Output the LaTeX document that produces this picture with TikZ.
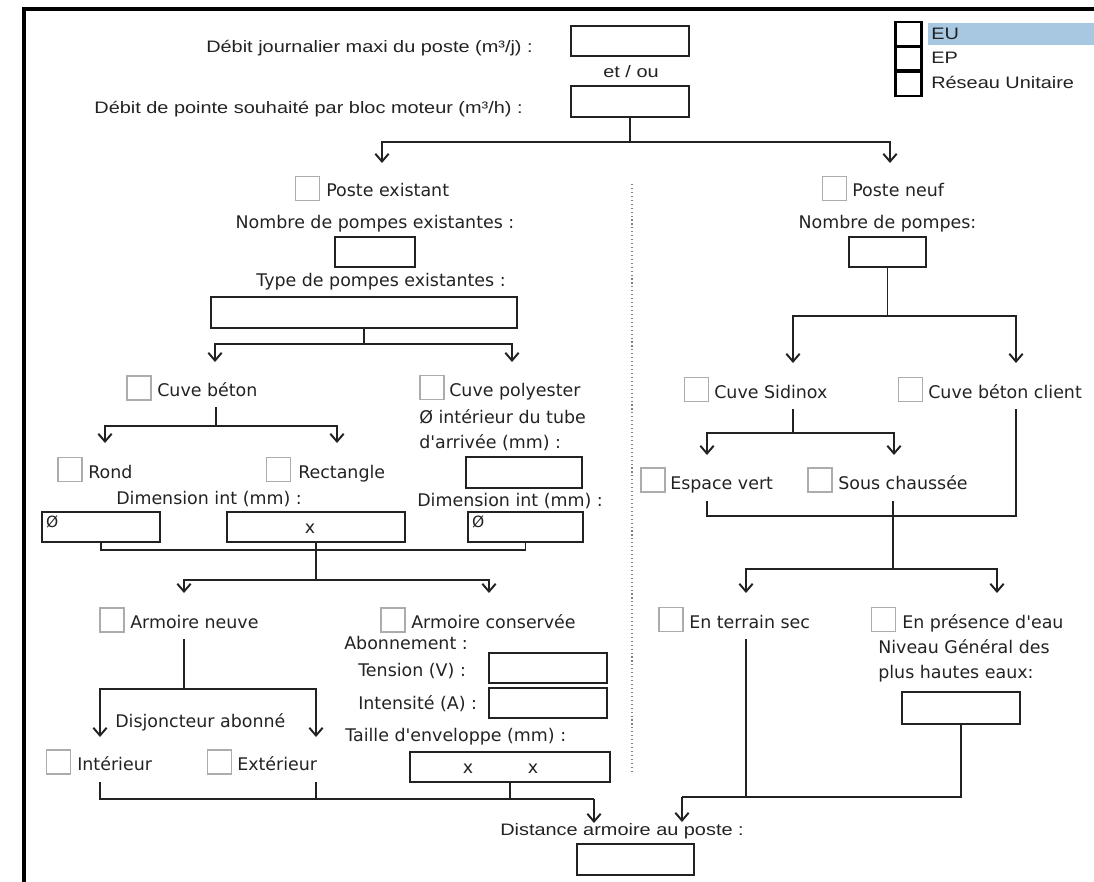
\documentclass[tikz,border=0pt]{standalone}
\usepackage{fontspec}
\setmainfont{Liberation Sans}[FakeStretch=1.2]
\newfontfamily\tah{DejaVu Sans}
\usetikzlibrary{arrows.meta}
\definecolor{hlblue}{HTML}{A8C8E2}
\definecolor{ink}{HTML}{222222}

\begin{document}
\begin{tikzpicture}[x=0.025cm, y=-0.025cm,
    ln/.style={draw=ink, line width=1.4pt},
    arr/.style={ln, -{Straight Barb[length=5.5pt,width=9.5pt]}},
    lbl/.style={font=\tah\fontsize{12.4}{14}\selectfont, text=ink, inner sep=0pt, text height=9pt, text depth=0pt},
    albl/.style={font=\fontsize{11.8}{13}\selectfont, text=ink, inner sep=0pt, text height=8.4pt, text depth=0pt},
    inbox/.style 2 args={draw=ink, line width=1.4pt, minimum width=#1*0.025cm, minimum height=#2*0.025cm, inner sep=0pt},
    chk/.style={draw=gray!65, line width=1.1pt, minimum size=24*0.025cm, inner sep=0pt},
    lgd/.style={draw=black, line width=1.8pt, minimum width=26*0.025cm, minimum height=24*0.025cm, inner sep=0pt},
    phi/.style={font=\tah\fontsize{11}{12}\selectfont, text=ink, inner sep=0pt, anchor=north west, xshift=3.5pt, yshift=-3pt}]
    \useasboundingbox (0,0) rectangle (1094,882);
    \draw[line width=3pt] (24,882) -- (24,9) -- (1094,9);

    % Debits
    \node[albl, anchor=east] (qday) at (533,47) {Débit journalier maxi du poste (m³/j) :};
    \node[inbox={118}{30}] (bday) at (630,41) {};
    \node[albl] (etou) at (631,72) {et / ou};
    \node[inbox={118}{31}] (bpeak) at (630,101.5) {};
    \node[albl, anchor=east] (qpeak) at (523,108) {Débit de pointe souhaité par bloc moteur (m³/h) :};

    % Reseau
    \node[lgd] (cbeu) at (908.5,34) {};
    \node[lgd] (cbep) at (908.5,58.5) {};
    \node[lgd] (cbru) at (908.5,84) {};
    \node[fill=hlblue, minimum width=166*0.025cm, minimum height=22*0.025cm, inner sep=0pt, anchor=west] (eubar) at (928,34) {};
    \node[albl, anchor=west] (eu) at (931,34) {EU};
    \node[albl, anchor=west] (ep) at (931,58) {EP};
    \node[albl, anchor=west] (ru) at (931,83) {Réseau Unitaire};

    \coordinate (j1) at (630,142);
    \coordinate (t1) at (382,163);
    \coordinate (t2) at (890,163);
    \draw[ln] (bpeak.south) -- (j1);
    \draw[arr] (j1) -| (t1);
    \draw[arr] (j1) -| (t2);

    \draw[gray, dotted, line width=0.8pt] (632,184) -- (632,773);

    % Poste existant
    \node[chk] (cbpe) at (307.5,188.5) {};
    \node[lbl, anchor=west] (pe) at (326,190) {Poste existant};
    \node[lbl] (qnbpe) at (375,222) {Nombre de pompes existantes :};
    \node[inbox={80}{30}] (nbpe) at (375,252) {};
    \node[lbl] (qtype) at (381,280) {Type de pompes existantes :};
    \node[inbox={306}{31}] (type) at (364,312.5) {};
    \coordinate (j2) at (364,344);
    \coordinate (t3) at (215,362);
    \coordinate (t4) at (512,362);
    \draw[ln] (type.south) -- (j2);
    \draw[arr] (j2) -| (t3);
    \draw[arr] (j2) -| (t4);

    \node[chk] (cbcb) at (139,388) {};
    \node[lbl, anchor=west] (cb) at (157,390) {Cuve béton};
    \node[chk] (cbcp) at (432,387.5) {};
    \node[lbl, anchor=west] (cp) at (449,390) {Cuve polyester};
    \node[lbl, anchor=west] (qtube1) at (419,417) {Ø intérieur du tube};
    \node[lbl, anchor=west] (qtube2) at (419,442) {d'arrivée (mm) :};
    \node[inbox={116}{31}] (tube) at (524,472.5) {};

    \coordinate (s1) at (216,407);
    \coordinate (j3) at (216,426);
    \coordinate (t5) at (105,443);
    \coordinate (t6) at (337,443);
    \draw[ln] (s1) -- (j3);
    \draw[arr] (j3) -| (t5);
    \draw[arr] (j3) -| (t6);

    \node[chk] (cbrd) at (70,469.5) {};
    \node[lbl, anchor=west] (rd) at (88,472) {Rond};
    \node[chk] (cbrc) at (278.5,469.5) {};
    \node[lbl, anchor=west] (rc) at (298,472) {Rectangle};
    \node[lbl] (qdim1) at (209,498) {Dimension int (mm) :};
    \node[lbl, anchor=west] (qdim2) at (417,500) {Dimension int (mm) :};

    \node[inbox={118}{30}] (dro) at (101,527) {};
    \node[inbox={178}{30}] (drc) at (316,527) {};
    \node[lbl] (xr) at (310,527) {x};
    \node[inbox={115}{30}] (dpo) at (525.5,527) {};
    \node[phi] (phro) at (dro.north west) {Ø};
    \node[phi] (phpo) at (dpo.north west) {Ø};

    \coordinate (j4) at (316,550);
    \draw[ln] (dro.south) |- (j4) -| (dpo.south);
    \coordinate (j5) at (316,580);
    \coordinate (t7) at (184,593);
    \coordinate (t8) at (489,593);
    \draw[ln] (drc.south) -- (j5);
    \draw[arr] (j5) -| (t7);
    \draw[arr] (j5) -| (t8);

    % Armoire
    \node[chk] (cban) at (112,620) {};
    \node[lbl, anchor=west] (an) at (130,622) {Armoire neuve};
    \node[chk] (cbac) at (393,620) {};
    \node[lbl, anchor=west] (ac) at (411,622) {Armoire conservée};
    \node[lbl, anchor=west] (qab) at (344,643) {Abonnement :};
    \node[lbl, anchor=west] (qv) at (358,670) {Tension (V) :};
    \node[inbox={118}{30}] (volt) at (548,668) {};
    \node[lbl, anchor=west] (qa) at (358,703) {Intensité (A) :};
    \node[inbox={118}{30}] (amp) at (548,703) {};
    \node[lbl, anchor=west] (qenv) at (345,735) {Taille d'enveloppe (mm) :};
    \node[inbox={200}{30}] (env) at (510,767) {};
    \node[lbl] (x1) at (468,767) {x};
    \node[lbl] (x2) at (533,767) {x};

    \coordinate (s2) at (184,639);
    \coordinate (j6) at (184,689);
    \coordinate (t9) at (100,737);
    \coordinate (t10) at (316,737);
    \draw[ln] (s2) -- (j6);
    \draw[arr] (j6) -| (t9);
    \draw[arr] (j6) -| (t10);
    \node[lbl, anchor=west] (disj) at (115,721) {Disjoncteur abonné};
    \node[chk] (cbin) at (58.5,762) {};
    \node[lbl, anchor=west] (inn) at (77,764) {Intérieur};
    \node[chk] (cbex) at (219.5,762) {};
    \node[lbl, anchor=west] (ext) at (237,764) {Extérieur};

    \coordinate (s3) at (100,782);
    \coordinate (s4) at (316,782);
    \coordinate (j7) at (594,799);
    \coordinate (t11) at (594,823);
    \draw[ln] (s3) |- (j7);
    \draw[ln] (s4) -- (s4 |- j7);
    \draw[ln] (env.south) -- (env.south |- j7);
    \draw[arr] (j7) -- (t11);

    % Poste neuf
    \node[chk] (cbpn) at (834.5,188.5) {};
    \node[lbl, anchor=west] (pn) at (852,190) {Poste neuf};
    \node[lbl] (qnbpn) at (887.5,222) {Nombre de pompes:};
    \node[inbox={77}{30}] (nbpn) at (887.5,252) {};
    \coordinate (j8) at (887.5,316);
    \coordinate (t12) at (793,363);
    \coordinate (t13) at (1016,363);
    \draw[ln] (nbpn.south) -- (j8);
    \draw[arr] (j8) -| (t12);
    \draw[arr] (j8) -| (t13);

    \node[chk] (cbsx) at (696.5,389.5) {};
    \node[lbl, anchor=west] (sx) at (714,392) {Cuve Sidinox};
    \node[chk] (cbbc) at (910.5,389.5) {};
    \node[lbl, anchor=west] (bc) at (928,392) {Cuve béton client};
    \coordinate (s5) at (793,409);
    \coordinate (j9) at (793,433);
    \coordinate (t14) at (707,455);
    \coordinate (t15) at (894,455);
    \draw[ln] (s5) -- (j9);
    \draw[arr] (j9) -| (t14);
    \draw[arr] (j9) -| (t15);

    \node[chk] (cbev) at (653,480) {};
    \node[lbl, anchor=west] (ev) at (670,483) {Espace vert};
    \node[chk] (cbsc) at (820,480) {};
    \node[lbl, anchor=west] (sc) at (838,483) {Sous chaussée};
    \coordinate (s6) at (707,501);
    \coordinate (s7) at (1016,409);
    \coordinate (s8) at (893,501);
    \coordinate (j10) at (1016,516);
    \coordinate (j11) at (893,569);
    \coordinate (t16) at (746,593);
    \coordinate (t17) at (997,593);
    \draw[ln] (s6) |- (j10) -- (s7);
    \draw[ln] (s8) -- (j11);
    \draw[arr] (j11) -| (t16);
    \draw[arr] (j11) -| (t17);

    \node[chk] (cbts) at (671,619.5) {};
    \node[lbl, anchor=west] (ts) at (689,622) {En terrain sec};
    \node[chk] (cbpr) at (883.5,619.5) {};
    \node[lbl, anchor=west] (pr) at (902,622) {En présence d'eau};
    \node[lbl, anchor=west] (ng1) at (878,647) {Niveau Général des};
    \node[lbl, anchor=west] (ng2) at (878,672) {plus hautes eaux:};
    \node[inbox={118}{32}] (nghe) at (961,708) {};
    \coordinate (s9) at (746,639);
    \coordinate (j12) at (682,797);
    \coordinate (t18) at (682,822);
    \draw[ln] (nghe.south) |- (j12);
    \draw[ln] (s9) -- (s9 |- j12);
    \draw[arr] (j12) -- (t18);

    % Distance
    \node[albl] (qdist) at (622,830) {Distance armoire au poste :};
    \node[inbox={117}{31}] (dist) at (635.5,859.5) {};
\end{tikzpicture}
\end{document}
